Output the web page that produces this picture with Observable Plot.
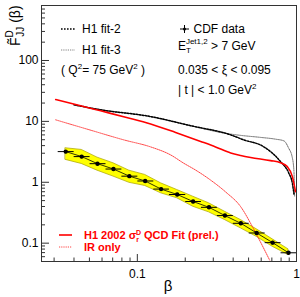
<!DOCTYPE html>
<html><head><meta charset="utf-8">
<script src="https://cdn.jsdelivr.net/npm/d3@7"></script>
<script src="https://cdn.jsdelivr.net/npm/@observablehq/plot@0.6"></script>
<style>body{margin:0;background:#fff}</style>
</head><body><div id="chart"></div>
<script>
// CDF data (beta bins, 0.1 decade wide)
const betaLo = [0.0316,0.0398,0.0501,0.0631,0.0794,0.1,0.126,0.158,0.2,0.251,0.316,0.398,0.501,0.631,0.794];
const betaHi = [0.0398,0.0501,0.0631,0.0794,0.1,0.126,0.158,0.2,0.251,0.316,0.398,0.501,0.631,0.794,1.0];
const betaC  = [0.0355,0.0447,0.0562,0.0708,0.0891,0.112,0.141,0.178,0.224,0.282,0.355,0.447,0.562,0.708,0.891];
const cdfF   = [3.19,2.64,2.02,1.65,1.26,1.05,0.773,0.63,0.483,0.388,0.284,0.212,0.147,0.102,0.0695];
const cdfErr = [0.2,0.16,0.12,0.1,0.08,0.06,0.05,0.04,0.03,0.025,0.018,0.014,0.01,0.007,0.005];
const bandLow  = [2.33,2.00,1.55,1.24,0.98,0.87,0.659,0.546,0.397,0.321,0.240,0.175,0.127,0.0873,0.0637];
const bandHigh = [3.62,3.40,2.54,2.05,1.55,1.32,0.96,0.747,0.580,0.452,0.328,0.240,0.169,0.1155,0.079];

// H1 2002 QCD fit (red solid)
const h1Beta = [0.0307,0.0440,0.0588,0.0844,0.1212,0.174,0.250,0.310,0.386,0.446,0.515,0.687,0.794,0.875,0.942,0.986];
const h1F    = [22.8,18.1,14.9,11.7,9.09,6.59,4.69,3.81,3.03,2.76,2.56,2.27,2.10,1.81,1.24,0.70];
// H1 fit-2 (black dashed)
const fit2Beta = [0.0400,0.0588,0.1212,0.216,0.386,0.466,0.621,0.794,0.895,0.942,0.964];
const fit2F    = [18.7,15.5,12.0,8.50,6.00,4.97,3.85,2.18,1.41,0.96,0.64];
// H1 fit-3 (grey dotted)
const fit3Beta = [0.0400,0.0588,0.1212,0.216,0.360,0.446,0.594,0.740,0.834,0.891,0.942,0.964,0.973];
const fit3F    = [18.7,15.5,12.0,8.50,6.35,5.89,5.46,5.10,4.78,3.67,2.51,1.48,0.595];
// IR only (red dotted)
const irBeta = [0.0307,0.0509,0.0824,0.1212,0.162,0.196,0.232,0.288,0.359,0.446,0.530,0.612,0.678];
const irF    = [10.6,7.17,4.96,3.81,2.81,2.05,1.59,1.09,0.692,0.397,0.184,0.0896,0.0527];

const yMajor = [0.1, 1, 10, 100];
const xMajor = [0.1, 1];
const yLabels = ["0.1","1","10","100"];
const xLabels = ["0.1","1"];

const yMinor = [];
for (const d of [0.01,0.1,1,10,100]) for (let k=2;k<=9;k++){const v=+(k*d).toPrecision(3); if(v>=0.05&&v<=800) yMinor.push(v);}
const xMinor = [];
for (const d of [0.01,0.1]) for (let k=2;k<=9;k++){const v=+(k*d).toPrecision(3); if(v>=0.025&&v<1) xMinor.push(v);}

const cdf = betaC.map((b,i)=>({b, lo:betaLo[i], hi:betaHi[i], f:cdfF[i], e:cdfErr[i], bl:bandLow[i], bh:bandHigh[i]}));
const mk = (xs, ys) => xs.map((b,i)=>({b, f:ys[i]}));

const axisCol = "#333";
const fit2Dash = "1.6,1.4";
const fit3Dash = "0.8,1";
const irDash = "1.2,1";
const plot = Plot.plot({
  width: 300, height: 297,
  marginLeft: 41, marginRight: 4, marginTop: 5, marginBottom: 36,
  style: {fontFamily: "'Liberation Sans', Arial, sans-serif", fontSize: "12px", background: "#fff"},
  x: {type: "log", domain: [0.025, 1]},
  y: {type: "log", domain: [0.05, 800]},
  marks: [
    Plot.areaY(cdf, {x: "b", y1: "bl", y2: "bh", fill: "#ffff00", stroke: "#a8a000", strokeWidth: 0.7}),
    Plot.line(mk(irBeta, irF), {x: "b", y: "f", stroke: "#ff3030", strokeWidth: 0.9, strokeDasharray: irDash, curve: "monotone-x", clip: true}),
    Plot.line(mk(fit3Beta, fit3F), {x: "b", y: "f", stroke: "#666", strokeWidth: 1, strokeDasharray: fit3Dash, curve: "monotone-x"}),
    Plot.line(mk(fit2Beta, fit2F), {x: "b", y: "f", stroke: "#000", strokeWidth: 1.5, strokeDasharray: fit2Dash, curve: "monotone-x"}),
    Plot.line(mk(h1Beta, h1F), {x: "b", y: "f", stroke: "#ff0000", strokeWidth: 1.6, curve: "monotone-x"}),
    Plot.line(cdf, {x: "b", y: "f", stroke: "#000", strokeWidth: 0.8}),
    Plot.link(cdf, {x1: "lo", x2: "hi", y1: "f", y2: "f", stroke: "#000", strokeWidth: 1}),
    Plot.link(cdf, {x1: "b", x2: "b", y1: d => d.f - d.e, y2: d => d.f + d.e, stroke: "#000", strokeWidth: 1}),
    Plot.dot(cdf, {x: "b", y: "f", r: 2.2, fill: "#000"}),
    Plot.frame({stroke: axisCol}),
    Plot.axisY(yMajor, {anchor: "left", tickSize: 8, dx: 8, text: null, stroke: axisCol}),
    Plot.axisY(yMinor, {anchor: "left", tickSize: 4, dx: 4, text: null, stroke: axisCol}),
    Plot.axisY(yMajor, {anchor: "left", tickSize: 0, tickPadding: 3, tickFormat: (d,i) => yLabels[yMajor.indexOf(d)], fontSize: 12, fill: "#000"}),
    Plot.axisX(xMajor, {anchor: "bottom", tickSize: 7, dy: -7, text: null, stroke: axisCol}),
    Plot.axisX(xMinor, {anchor: "bottom", tickSize: 3.5, dy: -3.5, text: null, stroke: axisCol}),
    Plot.axisX(xMajor, {anchor: "bottom", tickSize: 0, tickPadding: 8, tickFormat: d => xLabels[xMajor.indexOf(d)], fontSize: 12, fill: "#000"})
  ]
});
document.getElementById("chart").append(plot);

const svg = d3.select(plot);
const font = "'Liberation Sans', Arial, sans-serif";
function txt(x, y, size, parts, opts={}) {
  const t = svg.append("text").attr("x", x).attr("y", y).attr("font-size", size).attr("font-family", font)
    .attr("fill", opts.fill || "#000").attr("text-anchor", opts.anchor || "start");
  if (opts.bold) t.attr("font-weight", "bold");
  if (opts.transform) t.attr("transform", opts.transform).attr("x", 0).attr("y", 0);
  for (const p of parts) {
    const s = t.append("tspan").text(p.t);
    if (p.size) s.attr("font-size", p.size);
    if (p.dx != null) s.attr("dx", p.dx);
    if (p.dy != null) s.attr("dy", p.dy);
  }
  return t;
}
// y-axis title
txt(0, 0, 14, [{t: "F\u0303"}, {t: "D", size: 10, dy: -7}, {t: "JJ", size: 10, dx: -6.5, dy: 11}, {t: " (\u03b2)", dy: -4}],
    {transform: "translate(20,46) rotate(-90)"});
// x-axis title
txt(168, 291, 15, [{t: "\u03b2"}], {anchor: "middle"});

// top-left legend
svg.append("line").attr("x1", 61).attr("x2", 75).attr("y1", 29).attr("y2", 29).attr("stroke", "#000").attr("stroke-width", 1.5).attr("stroke-dasharray", fit2Dash);
txt(82, 32.5, 12, [{t: "H1 fit-2"}]);
svg.append("line").attr("x1", 61).attr("x2", 75).attr("y1", 50).attr("y2", 50).attr("stroke", "#666").attr("stroke-width", 1).attr("stroke-dasharray", fit3Dash);
txt(82, 53.5, 12, [{t: "H1 fit-3"}]);
txt(61, 74, 12, [{t: "( Q"}, {t: "2", size: 8, dy: -5}, {t: "= 75 GeV", dy: 5}, {t: "2", size: 8, dy: -5}, {t: " )", dy: 5}]);

// top-right legend
svg.append("line").attr("x1", 180).attr("x2", 189).attr("y1", 29).attr("y2", 29).attr("stroke", "#000");
svg.append("line").attr("x1", 184.5).attr("x2", 184.5).attr("y1", 25).attr("y2", 33).attr("stroke", "#000");
svg.append("circle").attr("cx", 184.5).attr("cy", 29).attr("r", 1.5).attr("fill", "#000");
txt(193.5, 32.5, 12, [{t: "CDF data"}]);
txt(178, 49.5, 12, [{t: "E"}, {t: "T", size: 8, dy: 3.5}, {t: "Jet1,2", size: 8, dx: -5, dy: -9}, {t: " > 7 GeV", dy: 5.5}]);
txt(178, 74, 12, [{t: "0.035 < \u03be < 0.095"}]);
txt(178, 93.5, 12, [{t: "| t | < 1.0 GeV"}, {t: "2", size: 8, dy: -5}]);

// bottom legend
svg.append("line").attr("x1", 59).attr("x2", 72).attr("y1", 235).attr("y2", 235).attr("stroke", "#ff0000").attr("stroke-width", 1.6);
txt(84, 239, 11, [{t: "H1 2002 \u03c3"}, {t: "r", size: 7, dy: 2.5}, {t: "D", size: 7, dx: -3, dy: -7}, {t: " QCD Fit (prel.)", dy: 4.5}], {fill: "#ff0000", bold: true});
svg.append("line").attr("x1", 59).attr("x2", 72).attr("y1", 247).attr("y2", 247).attr("stroke", "#ff3030").attr("stroke-width", 0.9).attr("stroke-dasharray", irDash);
txt(84, 251, 11, [{t: "IR only"}], {fill: "#ff0000", bold: true});
</script>
</body></html>
